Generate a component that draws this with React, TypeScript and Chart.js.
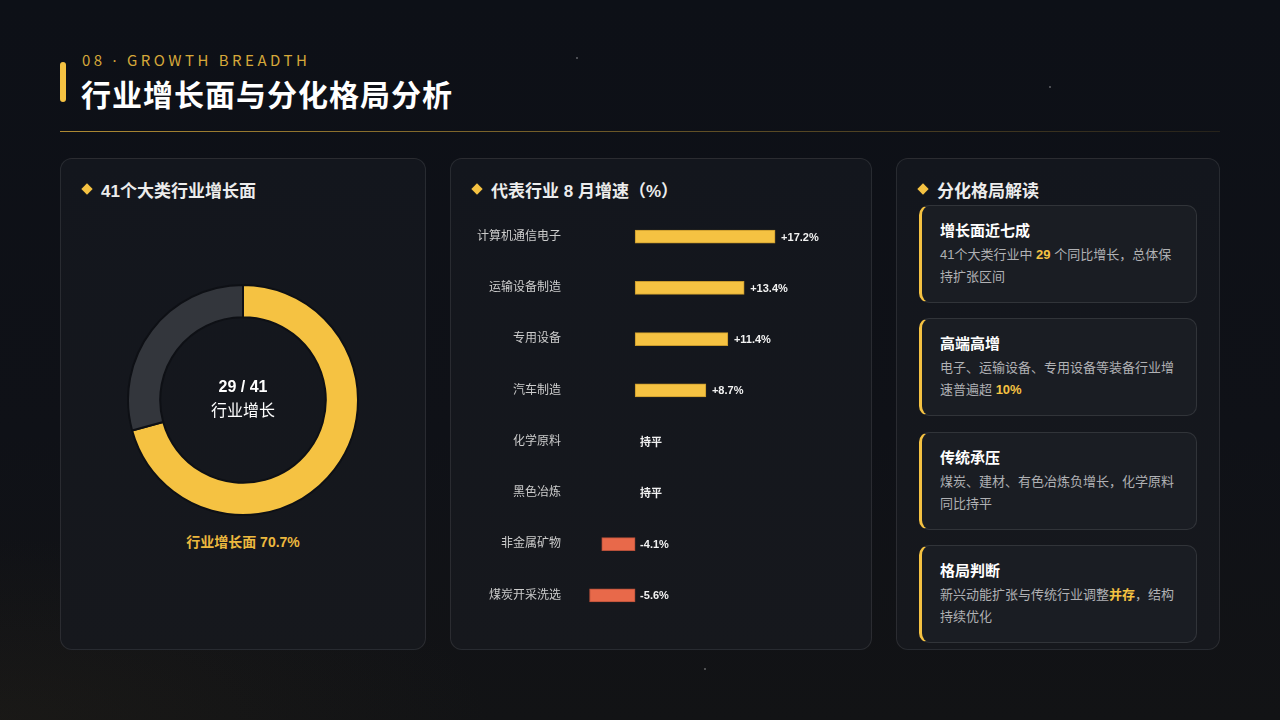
import React, { useEffect, useRef } from "react";
import { Chart, registerables } from "chart.js";

Chart.register(...registerables);

// ---- data ----
const donutLabels = ["增长", "未增长"];
const donutValues = [29, 12];
const totalIndustries = 41;

const barCategories = [
  "计算机通信电子",
  "运输设备制造",
  "专用设备",
  "汽车制造",
  "化学原料",
  "黑色冶炼",
  "非金属矿物",
  "煤炭开采洗选",
];
const barValues = [17.2, 13.4, 11.4, 8.7, 0, 0, -4.1, -5.6];
const flatLabel = "持平";

const YELLOW = "#f5c242";
const RED = "#e8694a";
const CJK = '"Noto Sans CJK SC", "Noto Sans", sans-serif';
const MIX = '"Liberation Sans", "Noto Sans CJK SC", sans-serif';

function fmt(v: number) {
  if (v === 0) return flatLabel;
  return (v > 0 ? "+" : "") + v.toFixed(1) + "%";
}

function Donut() {
  const ref = useRef<HTMLCanvasElement>(null);
  useEffect(() => {
    const chart = new Chart(ref.current!, {
      type: "doughnut",
      data: {
        labels: donutLabels,
        datasets: [
          {
            data: donutValues,
            backgroundColor: [YELLOW, "#33363c"],
            borderColor: "#0e1015",
            borderWidth: 2,
          },
        ],
      },
      options: {
        responsive: false,
        animation: false,
        cutout: "72%",
        plugins: { legend: { display: false }, tooltip: { enabled: false } },
      },
    });
    return () => chart.destroy();
  }, []);
  return (
    <canvas
      ref={ref}
      width={232}
      height={232}
      style={{ position: "absolute", left: 127 - 61, top: 284 - 159, width: 232, height: 232 }}
    />
  );
}

function Bars() {
  const ref = useRef<HTMLCanvasElement>(null);
  useEffect(() => {
    const valueLabelPlugin = {
      id: "valueLabels",
      afterDatasetsDraw(chart: any) {
        const ctx = chart.ctx;
        const meta = chart.getDatasetMeta(0);
        const xs = chart.scales.x;
        const zero = xs.getPixelForValue(0);
        ctx.save();
        ctx.font = `bold 11px ${MIX}`;
        ctx.fillStyle = "#f2f2f2";
        ctx.textBaseline = "middle";
        ctx.textAlign = "left";
        meta.data.forEach((bar: any, i: number) => {
          const v = barValues[i];
          const x = v > 0 ? bar.x + 6 : zero + 5;
          ctx.fillText(fmt(v), x, bar.y + 1);
        });
        ctx.restore();
      },
    };
    const chart = new Chart(ref.current!, {
      type: "bar",
      data: {
        labels: barCategories,
        datasets: [
          {
            data: barValues,
            backgroundColor: barValues.map((v) => (v >= 0 ? YELLOW : RED)),
            borderColor: barValues.map((v) => (v >= 0 ? "#c99a2c" : "#b8503a")),
            borderWidth: 1,
            borderSkipped: false,
            barThickness: 13,
          },
        ],
      },
      options: {
        indexAxis: "y",
        responsive: false,
        animation: false,
        layout: { padding: 0, autoPadding: false },
        plugins: { legend: { display: false }, tooltip: { enabled: false } },
        scales: {
          x: { display: false, min: -8, max: 28 },
          y: {
            grid: { display: false, drawTicks: false },
            border: { display: false },
            afterFit: (s: any) => {
              s.width = 110;
              s.paddingTop = 0;
              s.paddingBottom = 0;
            },
            ticks: {
              padding: 9,
              color: "#cccccc",
              font: { size: 12, family: MIX },
            },
          },
        },
      },
      plugins: [valueLabelPlugin],
    });
    return () => chart.destroy();
  }, []);
  return (
    <canvas
      ref={ref}
      width={403}
      height={410}
      style={{ position: "absolute", left: 460 - 451, top: 211 - 159, width: 403, height: 410 }}
    />
  );
}

const panelStyle: React.CSSProperties = {
  position: "absolute",
  top: 158,
  height: 492,
  boxSizing: "border-box",
  borderRadius: 12,
  border: "1px solid rgba(255,255,255,0.09)",
  background: "linear-gradient(180deg, #13161d 0%, #16181d 100%)",
};

function Heading({ text }: { text: string }) {
  return (
    <div
      style={{
        position: "absolute",
        left: 21,
        top: 18,
        height: 24,
        display: "flex",
        alignItems: "center",
        fontFamily: MIX,
        fontWeight: 700,
        fontSize: 17,
        color: "#ececec",
        whiteSpace: "nowrap",
      }}
    >
      <span
        style={{
          display: "inline-block",
          width: 8,
          height: 8,
          background: YELLOW,
          transform: "rotate(45deg)",
          marginLeft: 1,
          marginRight: 10,
        }}
      />
      {text}
    </div>
  );
}

const hl: React.CSSProperties = { color: YELLOW, fontWeight: 700 };

const cards: { title: string; body: React.ReactNode; top: number }[] = [
  {
    title: "增长面近七成",
    top: 205,
    body: (
      <>
        41个大类行业中 <span style={hl}>29</span> 个同比增长，总体保持扩张区间
      </>
    ),
  },
  {
    title: "高端高增",
    top: 318,
    body: (
      <>
        电子、运输设备、专用设备等装备行业增速普遍超 <span style={hl}>10%</span>
      </>
    ),
  },
  {
    title: "传统承压",
    top: 432,
    body: <>煤炭、建材、有色冶炼负增长，化学原料同比持平</>,
  },
  {
    title: "格局判断",
    top: 545,
    body: (
      <>
        新兴动能扩张与传统行业调整<span style={hl}>并存</span>，结构持续优化
      </>
    ),
  },
];

const dots = [
  [576, 57],
  [1049, 86],
  [192, 590],
  [704, 668],
  [1190, 244],
  [1152, 619],
  [307, 216],
];

export default function App() {
  useEffect(() => {
    document.body.style.margin = "0";
    document.body.style.background = "#0e1118";
  }, []);
  return (
    <div
      style={{
        position: "fixed",
        left: 0,
        top: 0,
        width: 1280,
        height: 720,
        overflow: "hidden",
        background:
          "radial-gradient(ellipse 700px 260px at 0% 100%, rgba(60,50,30,0.18), rgba(0,0,0,0) 70%), linear-gradient(180deg, #0d1017 0%, #0f1117 60%, #121315 100%)",
        fontFamily: MIX,
      }}
    >
      {dots.map(([x, y], i) => (
        <div
          key={i}
          style={{
            position: "absolute",
            left: x,
            top: y,
            width: 2,
            height: 2,
            borderRadius: 1,
            background: "rgba(255,255,255,0.35)",
          }}
        />
      ))}
      {/* header */}
      <div
        style={{
          position: "absolute",
          left: 60,
          top: 62,
          width: 6,
          height: 40,
          borderRadius: 3,
          background: YELLOW,
        }}
      />
      <div
        style={{
          position: "absolute",
          left: 82,
          top: 49,
          fontFamily: CJK,
          fontSize: 15,
          letterSpacing: 3.5,
          color: "#d6a83a",
          whiteSpace: "nowrap",
          lineHeight: "22px",
        }}
      >
        08 <span style={{ fontFamily: '"Noto Sans", sans-serif' }}>·</span> GROWTH BREADTH
      </div>
      <div
        style={{
          position: "absolute",
          left: 81,
          top: 72,
          fontFamily: CJK,
          fontWeight: 700,
          fontSize: 30,
          letterSpacing: 1,
          color: "#ffffff",
          whiteSpace: "nowrap",
          lineHeight: "42px",
        }}
      >
        行业增长面与分化格局分析
      </div>
      <div
        style={{
          position: "absolute",
          left: 60,
          top: 131,
          width: 1160,
          height: 1,
          background:
            "linear-gradient(90deg, rgba(214,168,58,0.8) 0%, rgba(214,168,58,0.45) 50%, rgba(214,168,58,0.12) 100%)",
        }}
      />

      {/* panel 1 */}
      <div style={{ ...panelStyle, left: 60, width: 366 }}>
        <Heading text="41个大类行业增长面" />
        <Donut />
        <div
          style={{
            position: "absolute",
            left: 0,
            width: 364,
            top: 375 - 159,
            textAlign: "center",
            color: "#ffffff",
            fontSize: 16,
            lineHeight: "24px",
          }}
        >
          <div style={{ fontWeight: 700 }}>
            {donutValues[0]} / {totalIndustries}
          </div>
          <div>行业增长</div>
        </div>
        <div
          style={{
            position: "absolute",
            left: 0,
            width: 364,
            top: 532 - 159,
            textAlign: "center",
            color: "#ecb83e",
            fontSize: 14,
            fontWeight: 700,
            lineHeight: "20px",
          }}
        >
          行业增长面 {((donutValues[0] / totalIndustries) * 100).toFixed(1)}%
        </div>
      </div>

      {/* panel 2 */}
      <div style={{ ...panelStyle, left: 450, width: 422 }}>
        <Heading text="代表行业 8 月增速（%）" />
        <Bars />
      </div>

      {/* panel 3 */}
      <div style={{ ...panelStyle, left: 896, width: 324 }}>
        <Heading text="分化格局解读" />
      </div>
      {cards.map((c, i) => (
        <div
          key={i}
          style={{
            position: "absolute",
            left: 919,
            top: c.top,
            width: 278,
            height: 98,
            boxSizing: "border-box",
            borderRadius: 10,
            border: "1px solid rgba(255,255,255,0.1)",
            borderLeft: `3px solid ${YELLOW}`,
            background: "#1a1d23",
            padding: "14px 18px 0 18px",
          }}
        >
          <div
            style={{
              color: "#ffffff",
              fontWeight: 700,
              fontSize: 15,
              lineHeight: "22px",
              marginBottom: 2,
            }}
          >
            {c.title}
          </div>
          <div style={{ color: "#b0b1b4", fontSize: 13, lineHeight: "22px" }}>{c.body}</div>
        </div>
      ))}
    </div>
  );
}
